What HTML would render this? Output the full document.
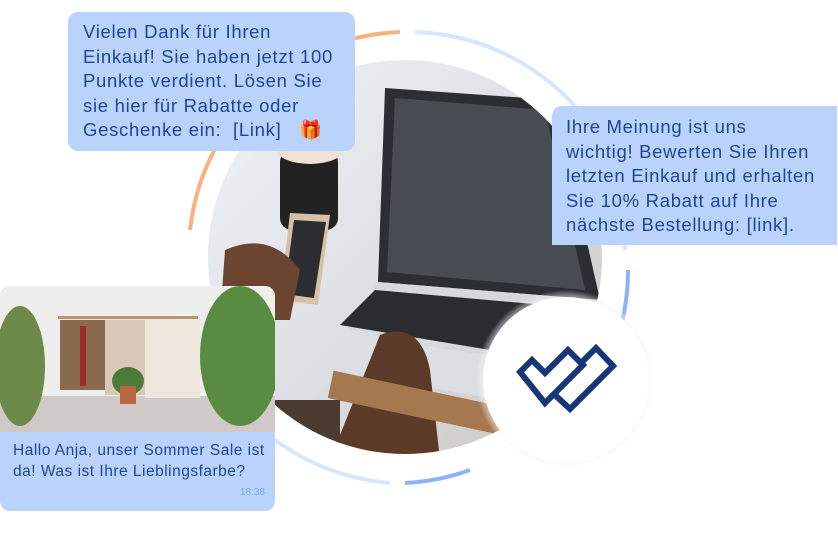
<!DOCTYPE html>
<html><head><meta charset="utf-8"><style>
html,body{margin:0;padding:0;background:#fff;}
body{width:838px;height:539px;position:relative;overflow:hidden;font-family:"Liberation Sans",sans-serif;}
.b{position:absolute;background:#b9d3fc;color:#1e4597;font-size:18.5px;letter-spacing:0.7px;line-height:24.5px;box-sizing:border-box;white-space:nowrap;}
</style></head><body>
<svg width="838" height="539" style="position:absolute;left:0;top:0">
<defs>
<radialGradient id="sh" cx="0.5" cy="0.5" r="0.5"><stop offset="0.85" stop-color="#e6edfb"/><stop offset="1" stop-color="#fff" stop-opacity="0"/></radialGradient>
<linearGradient id="ph" x1="0" y1="0" x2="1" y2="1"><stop offset="0" stop-color="#f0f2f5"/><stop offset="0.5" stop-color="#dde1e6"/><stop offset="1" stop-color="#c9c3bb"/></linearGradient>
<clipPath id="cc"><circle cx="405" cy="257" r="197"/></clipPath>
</defs>
<g fill="none" stroke-width="4">
<path d="M 300 60 A 225 225 0 0 1 400 32" stroke="#fbb07d"/>
<path d="M 190 230 A 225 225 0 0 1 285 70" stroke="#fbb07d"/>
<path d="M 415 32 A 225 225 0 0 1 600 140" stroke="#d7e5fd"/>
<path d="M 625 225 A 225 225 0 0 1 625 250" stroke="#d7e5fd"/>
<path d="M 628 270 A 225 225 0 0 1 620 330" stroke="#8cb3fa"/>
<path d="M 470 470 A 225 225 0 0 1 405 483" stroke="#8cb3fa"/>
<path d="M 390 483 A 225 225 0 0 1 275 440" stroke="#d7e5fd"/>
</g>
<g clip-path="url(#cc)">
<rect x="200" y="55" width="410" height="410" fill="url(#ph)"/>
<polygon points="385,88 555,100 600,300 378,282" fill="#2b2e33"/>
<polygon points="395,98 545,110 585,290 387,272" fill="#474b52"/>
<polygon points="378,282 600,300 600,360 350,330" fill="#d5d8dc"/>
<polygon points="375,290 545,305 520,355 340,325" fill="#2a2c30"/>
<polygon points="350,335 520,360 500,400 330,370" fill="#dcdfe2"/>
<rect x="280" y="150" width="58" height="80" rx="12" fill="#222"/>
<ellipse cx="310" cy="150" rx="33" ry="14" fill="#ece2d6"/>
<polygon points="290,213 330,215 318,305 280,300" fill="#d8bfa8"/>
<polygon points="294,220 326,222 314,298 284,294" fill="#2b2d31"/>
<path d="M 225 250 Q 270 230 300 270 L 290 320 L 220 320 Z" fill="#6b4530"/>
<path d="M 380 335 Q 420 320 430 370 L 440 460 L 330 460 Z" fill="#5b3a28"/>
<rect x="330" y="385" width="240" height="28" fill="#a5784f" transform="rotate(12 400 395)"/>
<rect x="220" y="400" width="120" height="70" fill="#4a3a30"/>
</g>
<circle cx="566" cy="380" r="90" fill="url(#sh)"/>
<circle cx="566" cy="380" r="83" fill="#fff"/>
<g fill="none" stroke="#153679" stroke-width="6" stroke-linejoin="miter">
<path d="M 520 372 L 532 360 L 545 373 L 568 350 L 583 365 L 545 403 Z"/>
<path d="M 583 361 L 596 348 L 613 366 L 570 409 L 556 396"/>
</g>
</svg>
<div class="b" style="left:68px;top:12px;width:287px;height:139px;border-radius:10px;padding:8px 0 0 15px;">Vielen Dank für Ihren<br>Einkauf! Sie haben jetzt 100<br>Punkte verdient. Lösen Sie<br>sie hier für Rabatte oder<br>Geschenke ein:&nbsp; [Link]&nbsp;&nbsp; <span style="color:#d7392a;letter-spacing:0">🎁</span></div>
<div class="b" style="left:552px;top:106px;width:285px;height:139px;border-radius:10px 0 0 0;padding:9px 0 0 14px;">Ihre Meinung ist uns<br>wichtig! Bewerten Sie Ihren<br>letzten Einkauf und erhalten<br>Sie 10% Rabatt auf Ihre<br>nächste Bestellung: [link].</div>
<div class="b" style="left:0;top:286px;width:275px;height:225px;border-radius:10px;overflow:hidden;letter-spacing:0;">
<svg width="275" height="146" style="display:block">
<rect width="275" height="146" fill="#eeeeec"/>
<rect y="110" width="275" height="36" fill="#cfc9c8"/>
<rect x="58" y="30" width="140" height="3" fill="#b89868"/>
<rect x="60" y="34" width="45" height="70" fill="#8a6a4e"/>
<rect x="105" y="34" width="40" height="75" fill="#dcc8b8"/>
<rect x="145" y="34" width="55" height="78" fill="#efe7de"/>
<rect x="80" y="40" width="6" height="60" fill="#9b2a2a"/>
<ellipse cx="128" cy="95" rx="16" ry="14" fill="#4c7a3a"/>
<rect x="120" y="100" width="16" height="18" fill="#b8683c"/>
<ellipse cx="240" cy="70" rx="40" ry="70" fill="#5a8b43"/>
<ellipse cx="20" cy="80" rx="25" ry="60" fill="#6e8a4a"/>
</svg>
<div style="padding:8px 0 0 13px;font-size:15.5px;letter-spacing:0.5px;line-height:21px;">Hallo Anja, unser Sommer Sale ist<br>da! Was ist Ihre Lieblingsfarbe?</div>
<div style="position:absolute;right:10px;bottom:6px;font-size:10px;color:#7fa7ef;">18:38</div>
</div>
</body></html>
